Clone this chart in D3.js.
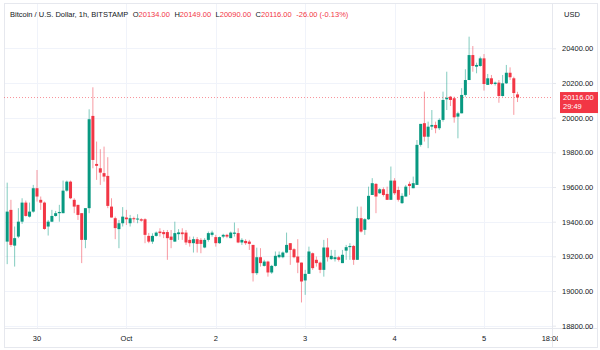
<!DOCTYPE html>
<html>
<head>
<meta charset="utf-8">
<script src="https://cdn.jsdelivr.net/npm/d3@7"></script>
<style>
  html, body { margin: 0; padding: 0; background: #ffffff; }
  svg { display: block; font-family: "Liberation Sans", Arial, sans-serif; }
</style>
</head>
<body>
<svg id="chart" width="600" height="350"></svg>
<script>
// BTC/USD hourly candles, Bitstamp, first bar 29 Sep 16:00 (UTC)
const firstBar = Date.UTC(2022, 8, 29, 16);
const opens = [
  19285,19468,19262,19314,19400,19510,19429,19458,
  19593,19526,19510,19372,19400,19433,19449,19449,19579,19631,19526,19497,19449,19295,19478,20010,19733,19708,19680,19664,19487,19420,19357,19391,
  19424,19391,19420,19414,19414,19414,19318,19285,19318,19343,19340,19340,19314,19285,19328,19338,19337,19295,19276,19299,19295,19251,19295,19324,
  19311,19276,19314,19324,19305,19330,19334,19280,19289,19285,19266,19103,19195,19145,19170,19107,19145,19195,19195,19222,19276,19241,19199,19164,
  19061,19099,19218,19180,19164,19122,19251,19184,19184,19195,19161,19233,19253,19260,19180,19420,19353,19414,19554,19618,19564,19587,19560,19526,
  19637,19583,19507,19545,19618,19593,19612,19843,19968,19890,19948,19958,19939,19987,20106,20121,20112,20006,20025,20131,20217,20361,20294,20298,
  20342,20189,20227,20194,20202,20125,20198,20259,20227,20134
];
const highs = [
  19625,19526,19372,19478,19535,19522,19510,19612,
  19698,19545,19516,19410,19468,19462,19497,19637,19637,19637,19535,19497,19449,19478,20048,20175,19862,19818,19833,19772,19535,19429,19410,19484,
  19468,19439,19429,19443,19420,19420,19335,19333,19343,19362,19352,19352,19352,19400,19357,19362,19352,19314,19314,19311,19305,19305,19343,19348,
  19324,19314,19330,19330,19343,19395,19362,19305,19299,19295,19266,19250,19247,19180,19175,19151,19228,19228,19228,19337,19276,19247,19299,19164,
  19122,19256,19222,19199,19170,19295,19305,19237,19237,19203,19237,19266,19276,19266,19487,19487,19420,19602,19651,19622,19593,19598,19602,19718,
  19651,19602,19564,19612,19631,19660,19871,19964,20150,19977,20044,19977,19996,20150,20265,20125,20121,20034,20170,20279,20467,20413,20317,20352,
  20367,20252,20246,20208,20217,20246,20304,20290,20236,20149
];
const lows = [
  19155,19255,19141,19305,19387,19429,19424,19452,
  19516,19468,19353,19320,19398,19429,19400,19449,19573,19530,19449,19410,19161,19247,19449,19708,19641,19612,19631,19478,19424,19299,19247,19372,
  19381,19372,19395,19391,19400,19276,19276,19272,19314,19314,19305,19180,19247,19285,19295,19295,19266,19256,19222,19222,19218,19247,19285,19314,
  19256,19272,19305,19305,19305,19314,19276,19266,19266,19237,19055,19093,19141,19141,19083,19099,19141,19189,19189,19218,19151,19189,19103,18934,
  18978,19099,19122,19141,19103,19083,19170,19180,19170,19170,19161,19180,19180,19151,19180,19337,19324,19410,19554,19449,19560,19545,19526,19526,
  19554,19516,19502,19545,19554,19593,19612,19833,19862,19824,19929,19910,19929,19977,20044,20067,19971,19881,20025,20121,20217,20265,20256,20294,
  20156,20189,20189,20185,20086,20121,20194,20217,20016,20090
];
const closes = [
  19458,19266,19305,19400,19510,19433,19458,19593,
  19545,19510,19358,19400,19433,19449,19456,19579,19631,19535,19487,19439,19295,19478,19991,19756,19722,19683,19660,19491,19424,19363,19391,19429,
  19414,19420,19414,19418,19406,19324,19285,19318,19337,19334,19328,19305,19295,19334,19338,19328,19280,19276,19299,19272,19272,19295,19334,19337,
  19276,19311,19324,19314,19337,19337,19280,19295,19276,19272,19103,19195,19161,19170,19107,19145,19203,19209,19222,19266,19237,19195,19164,19055,
  19099,19228,19132,19161,19122,19251,19195,19203,19195,19180,19209,19253,19260,19180,19420,19343,19414,19549,19622,19545,19587,19554,19526,19637,
  19564,19526,19549,19602,19606,19622,19843,19964,19890,19948,19958,19939,19987,20102,20115,20102,20002,20025,20131,20217,20361,20298,20304,20342,
  20194,20227,20194,20202,20125,20198,20259,20233,20142,20116
];

// Axis ticks
const priceTicks = [18800, 19000, 19200, 19400, 19600, 19800, 20000, 20200, 20400];
const timeTicks = [
  Date.UTC(2022, 8, 30), Date.UTC(2022, 9, 1), Date.UTC(2022, 9, 2),
  Date.UTC(2022, 9, 3), Date.UTC(2022, 9, 4), Date.UTC(2022, 9, 5),
  Date.UTC(2022, 9, 5, 18)
];
const timeLabels = ["30", "Oct", "2", "3", "4", "5", "18:00"];

const title = "Bitcoin / U.S. Dollar, 1h, BITSTAMP";
const quoteCurrency = "USD";
const countdown = "29:49";

const UP = "#089981", DOWN = "#F23645", GRID = "#f0f3fa", TEXT = "#131722", BORDER = "#e6e8ee";

const candles = opens.map((o, i) => ({
  t: new Date(firstBar + i * 3600e3), o, h: highs[i], l: lows[i], c: closes[i]
}));

const pane = { left: 4, right: 552, top: 3, bottom: 328 };

const x = d3.scaleUtc()
  .domain([new Date(timeTicks[0]), new Date(timeTicks[5])])
  .range([37, 484]);
const y = d3.scaleLinear().domain([18800, 20400]).range([325.7, 48.3]);

const svg = d3.select("#chart");

// grid
svg.append("g").selectAll("line").data(priceTicks).join("line")
  .attr("x1", pane.left).attr("x2", pane.right)
  .attr("y1", d => Math.round(y(d)) + 0.5).attr("y2", d => Math.round(y(d)) + 0.5)
  .attr("stroke", GRID);
svg.append("g").selectAll("line").data(timeTicks.slice(0, 6)).join("line")
  .attr("x1", d => Math.round(x(new Date(d))) + 0.5).attr("x2", d => Math.round(x(new Date(d))) + 0.5)
  .attr("y1", pane.top).attr("y2", pane.bottom)
  .attr("stroke", GRID);

// frame and separators
svg.append("rect").attr("x", 4.5).attr("y", 3.5).attr("width", 593).attr("height", 344)
  .attr("fill", "none").attr("stroke", BORDER);
svg.append("line").attr("x1", pane.right + 0.5).attr("x2", pane.right + 0.5)
  .attr("y1", 3).attr("y2", 348).attr("stroke", BORDER);
svg.append("line").attr("x1", 4).attr("x2", 598)
  .attr("y1", pane.bottom + 0.5).attr("y2", pane.bottom + 0.5).attr("stroke", BORDER);

// candles
const bw = 3;
const cg = svg.append("g");
cg.selectAll("line.wick").data(candles).join("line")
  .attr("class", "wick")
  .attr("x1", d => x(d.t)).attr("x2", d => x(d.t))
  .attr("y1", d => y(d.h)).attr("y2", d => y(d.l))
  .attr("stroke", d => d.c >= d.o ? UP : DOWN)
  .attr("stroke-opacity", 0.5)
  .attr("stroke-width", 1);
cg.selectAll("rect.body").data(candles).join("rect")
  .attr("class", "body")
  .attr("x", d => x(d.t) - bw / 2)
  .attr("width", bw)
  .attr("y", d => y(Math.max(d.o, d.c)))
  .attr("height", d => Math.max(1, Math.abs(y(d.o) - y(d.c))))
  .attr("fill", d => d.c >= d.o ? UP : DOWN);

// last price line
const last = candles[candles.length - 1];
const prev = candles[candles.length - 2];
const ly = y(last.c);
svg.append("line")
  .attr("x1", pane.left).attr("x2", pane.right)
  .attr("y1", ly).attr("y2", ly)
  .attr("stroke", DOWN).attr("stroke-opacity", 0.55)
  .attr("stroke-dasharray", "1,2");

// price axis
const yAxis = d3.axisRight(y).tickValues(priceTicks).tickFormat(d => d.toFixed(2)).tickSize(4).tickPadding(6);
const ya = svg.append("g").attr("transform", `translate(${pane.right},0)`).call(yAxis);
ya.select(".domain").remove();
ya.selectAll(".tick line").attr("stroke", BORDER);
ya.selectAll(".tick text").attr("fill", TEXT).style("font-size", "7.5px")
  .style("font-family", "'Liberation Sans', Arial, sans-serif");

// last price label
const lastColor = last.c >= last.o ? UP : DOWN;
svg.append("rect").attr("x", 560).attr("y", ly - 5.5).attr("width", 38).attr("height", 21)
  .attr("fill", lastColor);
svg.append("text").attr("x", 563).attr("y", ly + 2.6).attr("fill", "#fff")
  .style("font-size", "7.5px").text(last.c.toFixed(2));
svg.append("text").attr("x", 563).attr("y", ly + 11.8).attr("fill", "#fff")
  .style("font-size", "7.5px").text(countdown);

// time axis
svg.append("clipPath").attr("id", "taxis").append("rect")
  .attr("x", 4).attr("y", 328).attr("width", 554).attr("height", 20);
const xa = svg.append("g").attr("clip-path", "url(#taxis)");
xa.selectAll("text").data(timeTicks).join("text")
  .attr("x", d => x(new Date(d)))
  .attr("y", 341)
  .attr("text-anchor", "middle")
  .attr("fill", TEXT)
  .style("font-size", "7.5px")
  .text((d, i) => timeLabels[i]);

// legend
const change = last.c - prev.c;
const pct = change / prev.c * 100;
const fmt = v => v.toFixed(2);
const sign = change >= 0 ? "+" : "-";
const legend = svg.append("text").attr("x", 10).attr("y", 16.6).style("font-size", "7.5px").attr("fill", TEXT);
legend.append("tspan").text(title);
[["O", last.o], ["H", last.h], ["L", last.l], ["C", last.c]].forEach(([k, v]) => {
  legend.append("tspan").attr("dx", 4.5).attr("fill", TEXT).text(k);
  legend.append("tspan").attr("fill", lastColor).text(fmt(v));
});
legend.append("tspan").attr("dx", 4.5).attr("fill", lastColor)
  .text(`${sign}${fmt(Math.abs(change))} (${sign}${fmt(Math.abs(pct))}%)`);

svg.append("text").attr("x", 564).attr("y", 16.6).attr("fill", TEXT)
  .style("font-size", "7.5px").text(quoteCurrency);
</script>
</body>
</html>
